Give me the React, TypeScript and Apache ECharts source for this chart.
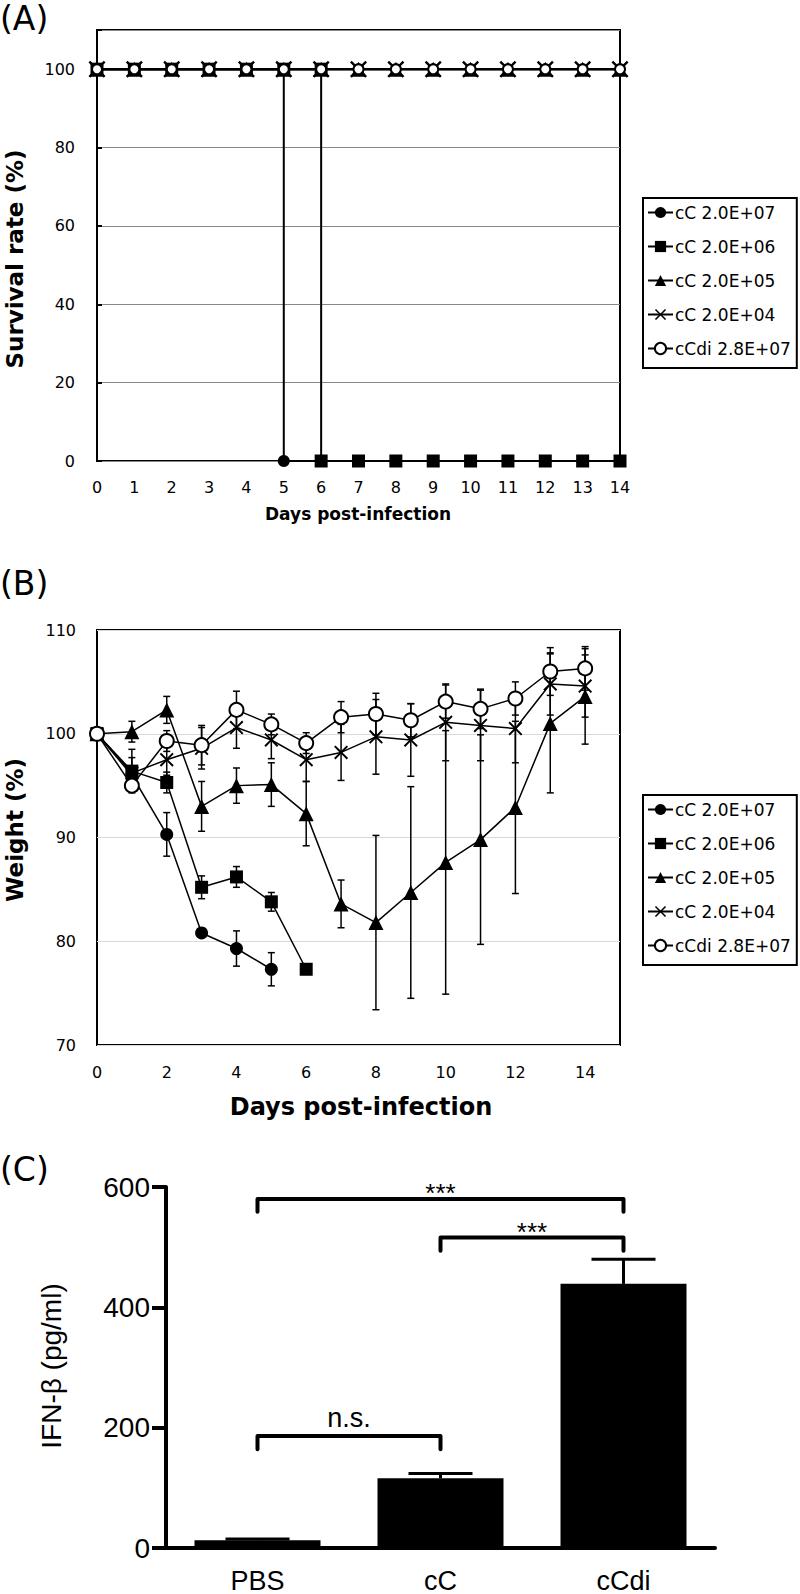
import React, { useEffect, useRef } from 'react';
import * as echarts from 'echarts';

// ---------- shared ----------
const seriesNames = ['cC 2.0E+07', 'cC 2.0E+06', 'cC 2.0E+05', 'cC 2.0E+04', 'cCdi 2.8E+07'];
const crossPath = 'path://M0,1 L1,0 L5,4 L9,0 L10,1 L6,5 L10,9 L9,10 L5,6 L1,10 L0,9 L4,5 Z';
const symbols = ['circle', 'rect', 'triangle', crossPath, 'circle'];
const fills = ['#000', '#000', '#000', '#000', '#fff'];
const symSizeA = [12, 13, 15, 17, 10];
const symSizeB = [13, 13, 15, 14, 14];

// ---------- panel A: survival ----------
const survDays1 = [0, 1, 2, 3, 4, 5, 5, 6, 7, 8, 9, 10, 11, 12, 13, 14];
const survVals1 = [100, 100, 100, 100, 100, 100, 0, 0, 0, 0, 0, 0, 0, 0, 0, 0];
const survDays2 = [0, 1, 2, 3, 4, 5, 6, 6, 7, 8, 9, 10, 11, 12, 13, 14];
const survVals2 = [100, 100, 100, 100, 100, 100, 100, 0, 0, 0, 0, 0, 0, 0, 0, 0];
const survDays3 = [0, 1, 2, 3, 4, 5, 6, 7, 8, 9, 10, 11, 12, 13, 14];
const survVals3 = [100, 100, 100, 100, 100, 100, 100, 100, 100, 100, 100, 100, 100, 100, 100];
const survDays4 = [0, 1, 2, 3, 4, 5, 6, 7, 8, 9, 10, 11, 12, 13, 14];
const survVals4 = [100, 100, 100, 100, 100, 100, 100, 100, 100, 100, 100, 100, 100, 100, 100];
const survDays5 = [0, 1, 2, 3, 4, 5, 6, 7, 8, 9, 10, 11, 12, 13, 14];
const survVals5 = [100, 100, 100, 100, 100, 100, 100, 100, 100, 100, 100, 100, 100, 100, 100];

// ---------- panel B: weight ----------
const wDays1 = [0, 1, 2, 3, 4, 5];
const wVals1 = [100, 96.0, 90.3, 80.8, 79.3, 77.3];
const wErr1 = [0, 0.8, 2.1, 0.4, 1.7, 1.6];
const wDays2 = [0, 1, 2, 3, 4, 5, 6];
const wVals2 = [100, 96.4, 95.3, 85.2, 86.2, 83.8, 77.3];
const wErr2 = [0, 2.1, 1.0, 1.1, 1.0, 0.9, 0];
const wDays3 = [0, 1, 2, 3, 4, 5, 6, 7, 8, 9, 10, 11, 12, 13, 14];
const wVals3 = [100, 100.2, 102.3, 93.0, 95.0, 95.1, 92.3, 83.6, 81.8, 84.7, 87.6, 89.8, 92.9, 101.0, 103.6];
const wErr3 = [0, 1.0, 1.3, 2.4, 1.7, 2.1, 3.1, 2.3, 8.4, 10.2, 12.7, 10.1, 8.3, 6.7, 4.6];
const wDays4 = [0, 1, 2, 3, 4, 5, 6, 7, 8, 9, 10, 11, 12, 13, 14];
const wVals4 = [100, 96.2, 97.5, 98.6, 100.6, 99.4, 97.5, 98.2, 99.7, 99.4, 101.1, 100.8, 100.5, 104.8, 104.6];
const wErr4 = [0, 1.5, 1.5, 2.0, 2.0, 1.8, 2.1, 2.7, 3.6, 3.5, 3.7, 3.4, 3.3, 3.0, 3.0];
const wDays5 = [0, 1, 2, 3, 4, 5, 6, 7, 8, 9, 10, 11, 12, 13, 14];
const wVals5 = [100, 95.0, 99.3, 98.9, 102.3, 100.9, 99.1, 101.6, 101.9, 101.3, 103.1, 102.4, 103.4, 106.0, 106.3];
const wErr5 = [0, 0.4, 1.0, 1.9, 1.8, 1.0, 1.0, 1.5, 2.0, 1.6, 1.6, 1.9, 1.6, 2.3, 2.1];

// ---------- panel C: IFN-beta ----------
const cCategories = ['PBS', 'cC', 'cCdi'];
const cValues = [13, 116, 439];
const cErrors = [2, 8, 41];
const bracketFrom = [0, 1, 0];
const bracketTo = [2, 2, 1];
const bracketTop = [580, 516, 186];
const bracketEnd = [559, 494, 164];
const bracketLabels = ['***', '***', 'n.s.'];

const ARIAL = '"Liberation Sans", Arial, sans-serif';
const SANS = '"DejaVu Sans", Verdana, sans-serif';

function zip(xs: number[], ys: number[]) {
  return xs.map((x, i) => [x, ys[i]]);
}

export default function App() {
  const ref = useRef<HTMLDivElement>(null);
  useEffect(() => {
    if (!ref.current) return;
    const chart = echarts.init(ref.current, undefined, { renderer: 'svg' });

    const survX = [survDays1, survDays2, survDays3, survDays4, survDays5];
    const survY = [survVals1, survVals2, survVals3, survVals4, survVals5];
    const wX = [wDays1, wDays2, wDays3, wDays4, wDays5];
    const wY = [wVals1, wVals2, wVals3, wVals4, wVals5];
    const wE = [wErr1, wErr2, wErr3, wErr4, wErr5];

    const lineSeries = (panel: number) =>
      seriesNames.map((name, i) => ({
        name,
        type: 'line',
        xAxisIndex: panel,
        yAxisIndex: panel,
        data: panel === 0 ? zip(survX[i], survY[i]) : zip(wX[i], wY[i]),
        symbol: symbols[i],
        symbolSize: panel === 0 ? symSizeA[i] : symSizeB[i],
        showSymbol: true,
        z: 3,
        lineStyle: { color: '#000', width: panel === 0 ? 2 : 1.5 },
        itemStyle: { color: fills[i], borderColor: '#000', borderWidth: i === 4 ? 2 : 0, opacity: 1 },
        emphasis: { disabled: true },
      }));

    const errRows: number[][] = [];
    wX.forEach((xs, s) => {
      xs.forEach((d, k) => {
        if (wE[s][k] > 0) errRows.push([d, wY[s][k], wE[s][k]]);
      });
    });

    const option: any = {
      animation: false,
      backgroundColor: '#fff',
      grid: [
        { left: 97, top: 30, width: 523, height: 431, show: true, borderColor: '#000', borderWidth: 2, backgroundColor: 'transparent' },
        { left: 97, top: 630, width: 523, height: 415, show: true, borderColor: '#000', borderWidth: 2, backgroundColor: 'transparent' },
        { left: 166, top: 1187, width: 549, height: 364 },
      ],
      xAxis: [
        {
          type: 'value', gridIndex: 0, min: 0, max: 14, interval: 1,
          axisLine: { show: false }, axisTick: { show: false }, splitLine: { show: false },
          axisLabel: { fontSize: 16, fontFamily: SANS, color: '#000', margin: 18 },
        },
        {
          type: 'value', gridIndex: 1, min: 0, max: 15, interval: 2,
          axisLine: { show: false }, axisTick: { show: false }, splitLine: { show: false },
          axisLabel: { fontSize: 16, fontFamily: SANS, color: '#000', margin: 19, formatter: (v: number) => (v > 14 ? '' : String(v)) },
        },
        {
          type: 'category', gridIndex: 2, data: cCategories,
          axisLine: { lineStyle: { color: '#000', width: 4 } },
          axisTick: { alignWithLabel: true, length: 14, lineStyle: { color: '#000', width: 4 } },
          axisLabel: { fontSize: 27, fontFamily: ARIAL, color: '#000', margin: 19 },
        },
      ],
      yAxis: [
        {
          type: 'value', gridIndex: 0, min: 0, max: 110, interval: 20,
          axisLine: { show: false },
          axisTick: { show: true, inside: true, length: 5, lineStyle: { color: '#000', width: 2 } },
          splitLine: { show: true, lineStyle: { color: '#888', width: 1 } },
          axisLabel: { fontSize: 16, fontFamily: SANS, color: '#000', margin: 22, formatter: (v: number) => (v > 100 ? '' : String(v)) },
        },
        {
          type: 'value', gridIndex: 1, min: 70, max: 110, interval: 10,
          axisLine: { show: false }, axisTick: { show: false },
          splitLine: { show: true, lineStyle: { color: '#d9d9d9', width: 1 } },
          axisLabel: { fontSize: 16, fontFamily: SANS, color: '#000', margin: 21 },
        },
        {
          type: 'value', gridIndex: 2, min: 0, max: 600, interval: 200,
          axisLine: { show: true, lineStyle: { color: '#000', width: 4 } },
          axisTick: { show: true, length: 14, lineStyle: { color: '#000', width: 4 } },
          splitLine: { show: false },
          axisLabel: { fontSize: 28, fontFamily: ARIAL, color: '#000', margin: 16 },
        },
      ],
      legend: [0, 1].map((p) => ({
        data: seriesNames,
        orient: 'vertical',
        left: 643,
        top: p === 0 ? 198 : 795,
        padding: [6, 6, 11, 4],
        itemWidth: 25,
        itemHeight: 14,
        itemGap: 17,
        borderColor: '#000',
        borderWidth: 2,
        backgroundColor: '#fff',
        selectedMode: false,
        textStyle: { fontSize: 17, fontFamily: SANS, color: '#000', padding: [0, 0, 0, -3] },
      })),
      graphic: [
        { type: 'text', left: 0, top: 2, style: { text: '(A)', fontSize: 33, fontFamily: SANS, fill: '#000' } },
        { type: 'text', left: 0, top: 567, style: { text: '(B)', fontSize: 33, fontFamily: SANS, fill: '#000' } },
        { type: 'text', left: 0, top: 1153, style: { text: '(C)', fontSize: 33, fontFamily: SANS, fill: '#000' } },
        { type: 'text', x: 15, y: 259, rotation: Math.PI / 2, style: { text: 'Survival rate (%)', fontSize: 23, fontWeight: 'bold', fontFamily: SANS, fill: '#000', align: 'center', verticalAlign: 'middle' } },
        { type: 'text', x: 358, y: 514, style: { text: 'Days post-infection', fontSize: 17, fontWeight: 'bold', fontFamily: SANS, fill: '#000', align: 'center', verticalAlign: 'middle' } },
        { type: 'text', x: 15, y: 830, rotation: Math.PI / 2, style: { text: 'Weight (%)', fontSize: 23, fontWeight: 'bold', fontFamily: SANS, fill: '#000', align: 'center', verticalAlign: 'middle' } },
        { type: 'text', x: 361, y: 1107, style: { text: 'Days post-infection', fontSize: 24, fontWeight: 'bold', fontFamily: SANS, fill: '#000', align: 'center', verticalAlign: 'middle' } },
        { type: 'text', x: 51, y: 1366, rotation: Math.PI / 2, style: { text: 'IFN-β (pg/ml)', fontSize: 28, fontFamily: ARIAL, fill: '#000', align: 'center', verticalAlign: 'middle' } },
      ],
      series: [
        ...lineSeries(0),
        {
          type: 'custom',
          xAxisIndex: 1,
          yAxisIndex: 1,
          z: 1,
          dimensions: ['day', 'val', 'err'],
          encode: { x: 0, y: 1 },
          data: errRows,
          silent: true,
          renderItem: (params: any, api: any) => {
            const x = api.value(0);
            const y = api.value(1);
            const e = api.value(2);
            const t = api.coord([x, y + e]);
            const b = api.coord([x, y - e]);
            const hw = 3.5;
            const st = { stroke: '#000', lineWidth: 1.5 };
            return {
              type: 'group',
              children: [
                { type: 'line', shape: { x1: t[0], y1: t[1], x2: b[0], y2: b[1] }, style: st },
                { type: 'line', shape: { x1: t[0] - hw, y1: t[1], x2: t[0] + hw, y2: t[1] }, style: st },
                { type: 'line', shape: { x1: b[0] - hw, y1: b[1], x2: b[0] + hw, y2: b[1] }, style: st },
              ],
            };
          },
        },
        ...lineSeries(1),
        {
          type: 'bar',
          xAxisIndex: 2,
          yAxisIndex: 2,
          data: cValues,
          barWidth: 126,
          itemStyle: { color: '#000' },
          z: 2,
          silent: true,
        },
        {
          type: 'custom',
          xAxisIndex: 2,
          yAxisIndex: 2,
          z: 3,
          silent: true,
          data: cValues.map((v, i) => [i, v, cErrors[i]]),
          renderItem: (params: any, api: any) => {
            const i = api.value(0);
            const v = api.value(1);
            const e = api.value(2);
            const p = api.coord([i, v]);
            const t = api.coord([i, v + e]);
            const hw = 32;
            const st = { stroke: '#000', lineWidth: 3 };
            return {
              type: 'group',
              children: [
                { type: 'line', shape: { x1: p[0], y1: p[1], x2: t[0], y2: t[1] }, style: st },
                { type: 'line', shape: { x1: t[0] - hw, y1: t[1], x2: t[0] + hw, y2: t[1] }, style: st },
              ],
            };
          },
        },
        {
          type: 'custom',
          xAxisIndex: 2,
          yAxisIndex: 2,
          z: 4,
          silent: true,
          data: bracketFrom.map((f, i) => [f, bracketTo[i], bracketTop[i], bracketEnd[i]]),
          renderItem: (params: any, api: any) => {
            const idx = params.dataIndex;
            const a = api.coord([bracketFrom[idx], bracketTop[idx]]);
            const b = api.coord([bracketTo[idx], bracketTop[idx]]);
            const ea = api.coord([bracketFrom[idx], bracketEnd[idx]]);
            const label = bracketLabels[idx];
            const ns = label === 'n.s.';
            return {
              type: 'group',
              children: [
                {
                  type: 'polyline',
                  shape: { points: [[a[0], ea[1]], [a[0], a[1]], [b[0], b[1]], [b[0], ea[1]]] },
                  style: { stroke: '#000', lineWidth: 4, fill: null, lineJoin: 'round', lineCap: 'round' },
                },
                {
                  type: 'text',
                  x: (a[0] + b[0]) / 2,
                  y: a[1] - (ns ? 18 : 6),
                  style: {
                    text: label,
                    fontSize: ns ? 27 : 26,
                    fontFamily: ARIAL,
                    fill: '#000',
                    align: 'center',
                    verticalAlign: 'middle',
                  },
                },
              ],
            };
          },
        },
      ],
    };

    chart.setOption(option);
    return () => chart.dispose();
  }, []);

  return <div ref={ref} style={{ position: 'absolute', left: 0, top: 0, width: 800, height: 1594 }} />;
}
